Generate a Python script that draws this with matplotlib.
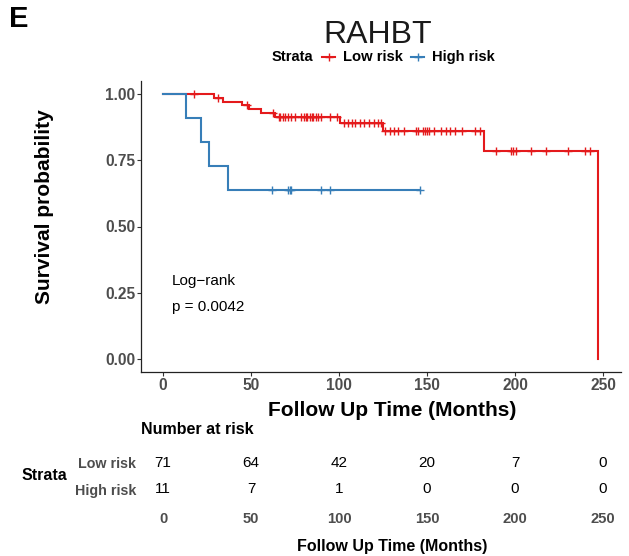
import numpy as np
import matplotlib
matplotlib.use("Agg")
import matplotlib.pyplot as plt
from matplotlib.lines import Line2D

plt.rcParams['font.family'] = ['Liberation Sans', 'DejaVu Sans']

# ---- follow-up data (months) ----
low_event_times = [29, 34, 45, 49, 55.5, 63.5, 100.5, 125, 182.5, 247]
low_censor_times = [17.8, 31, 48,
                    62.5, 65.9, 66.5, 68.4, 69.5, 70.8, 72.7, 75, 78.4, 80.3,
                    81, 81.7, 83.5, 84.5, 85.4, 86.8, 87.9, 90, 95, 98.7,
                    103, 105, 107.6, 109, 112, 114.4, 117, 120, 122, 124,
                    126.1, 129, 131.2, 133.3, 137.1, 143.8, 144.7, 147.9, 148.9, 149.8,
                    151, 154, 158, 161, 163, 166, 170, 177, 180,
                    189, 198, 199,
                    200.5, 209, 217.6, 230, 240, 242.6]
high_event_times = [13, 21.5, 26, 37]
high_censor_times = [62, 71, 72, 73, 90, 95, 146]

strata_names = ["Low risk", "High risk"]
strata_colors = ["#E41A1C", "#377EB8"]
risk_times = [0, 50, 100, 150, 200, 250]
y_ticks = [0.00, 0.25, 0.50, 0.75, 1.00]
pval_text = "p = 0.0042"


def kaplan_meier(ev, ce):
    ev = np.asarray(ev, float)
    ce = np.asarray(ce, float)
    times = np.concatenate([ev, ce])
    status = np.concatenate([np.ones(len(ev)), np.zeros(len(ce))])
    order = np.argsort(times, kind="stable")
    times, status = times[order], status[order]
    xs, ys = [0.0], [1.0]
    s = 1.0
    for t in np.unique(times[status == 1]):
        at_risk = np.sum(times >= t)
        d = np.sum((times == t) & (status == 1))
        s *= 1 - d / at_risk
        xs.append(t)
        ys.append(s)
    xs, ys = np.array(xs), np.array(ys)
    end = times.max()

    def surv(t):
        idx = np.searchsorted(xs, t, side="right") - 1
        return ys[idx]

    cx = ce
    cy = np.array([surv(t) for t in cx])
    xs_full = np.append(xs, end)
    ys_full = np.append(ys, ys[-1])
    risk = [int(np.sum(times >= t)) for t in risk_times]
    return xs_full, ys_full, cx, cy, risk


W, H = 629, 556
fig = plt.figure(figsize=(W / 100, H / 100), dpi=100)


def fx(px):
    return px / W


def fy(py):
    return 1 - py / H


# main panel
xlim = (-12.4, 260.4)
ylim = (-0.05, 1.05)
left_px, right_px = 141.2, 621.3
top_px, bot_px = 80.75, 372.25
ax = fig.add_axes([fx(left_px), fy(bot_px), fx(right_px - left_px), (bot_px - top_px) / H])
ax.set_xlim(*xlim)
ax.set_ylim(*ylim)

curves = [kaplan_meier(low_event_times, low_censor_times),
          kaplan_meier(high_event_times, high_censor_times)]

for (xs, ys, cx, cy, _), col in zip(curves, strata_colors):
    ax.step(xs, ys, where="post", color=col, lw=1.5, solid_joinstyle="miter")
    ax.plot(cx, cy, ls="none", marker="+", ms=6, mew=1.0, color=col)

for side in ("top", "right"):
    ax.spines[side].set_visible(False)
for side in ("left", "bottom"):
    ax.spines[side].set_linewidth(0.9)
    ax.spines[side].set_color("#222222")

ax.set_xticks(risk_times)
ax.set_xticklabels([str(t) for t in risk_times])
ax.set_yticks(y_ticks)
ax.set_yticklabels([f"{v:.2f}" for v in y_ticks])
ax.tick_params(axis="both", length=3, width=0.8, color="#333333",
               labelsize=11.2, labelcolor="#4D4D4D", pad=1.2)
for lab in ax.get_xticklabels() + ax.get_yticklabels():
    lab.set_fontweight("bold")

ax.text(5.1, 0.294, "Log\u2212rank", fontsize=11, va="center", ha="left")
ax.text(5.1, 0.196, pval_text, fontsize=11, va="center", ha="left")

# axis titles
fig.text(fx(392), fy(410), "Follow Up Time (Months)", fontsize=15, fontweight="bold",
         ha="center", va="center")
fig.text(fx(45), fy(207), "Survival probability", fontsize=15, fontweight="bold",
         ha="center", va="center", rotation=90)

# title, panel letter
fig.text(fx(378), fy(35), "RAHBT", fontsize=23, ha="center", va="center", color="#1a1a1a")
fig.text(fx(9), fy(19), "E", fontsize=21, fontweight="bold", ha="left", va="center")

# legend row
ly = fy(57)
fig.text(fx(272), ly, "Strata", fontsize=10.6, fontweight="bold", ha="left", va="center")
for x0, name, col in [(322, strata_names[0], strata_colors[0]),
                      (411, strata_names[1], strata_colors[1])]:
    fig.add_artist(Line2D([fx(x0), fx(x0 + 13)], [ly, ly], color=col, lw=1.5,
                          transform=fig.transFigure))
    fig.add_artist(Line2D([fx(x0 + 6.5)], [ly], color=col, marker="+", ms=6, mew=1.0,
                          transform=fig.transFigure))
    fig.text(fx(x0 + 21), ly, name, fontsize=10.6, fontweight="bold", ha="left", va="center")

# risk table
tab_top, tab_bot = 450, 505
tab = fig.add_axes([fx(left_px), fy(tab_bot), fx(right_px - left_px), (tab_bot - tab_top) / H])
tab.set_xlim(*xlim)
tab.set_ylim(0, 1)
row_y = [(tab_bot - 463) / (tab_bot - tab_top), (tab_bot - 489) / (tab_bot - tab_top)]
for (_, _, _, _, risk), yy in zip(curves, row_y):
    for t, r in zip(risk_times, risk):
        tab.text(t, yy, str(r), fontsize=11, ha="center", va="center")
for side in tab.spines.values():
    side.set_visible(False)
tab.set_xticks(risk_times)
tab.set_xticklabels([str(t) for t in risk_times])
tab.set_yticks(row_y)
tab.set_yticklabels(strata_names)
tab.tick_params(axis="x", length=0, labelsize=10.6, labelcolor="#4D4D4D", pad=5)
tab.tick_params(axis="y", length=0, labelsize=10.3, labelcolor="#4D4D4D", pad=3.5)
for lab in tab.get_xticklabels() + tab.get_yticklabels():
    lab.set_fontweight("bold")

fig.text(fx(141), fy(430), "Number at risk", fontsize=11.5, fontweight="bold",
         ha="left", va="center")
fig.text(fx(22), fy(476), "Strata", fontsize=11.5, fontweight="bold", ha="left", va="center")
fig.text(fx(392), fy(547), "Follow Up Time (Months)", fontsize=11.5, fontweight="bold",
         ha="center", va="center")

fig.savefig("out.png", dpi=100)
